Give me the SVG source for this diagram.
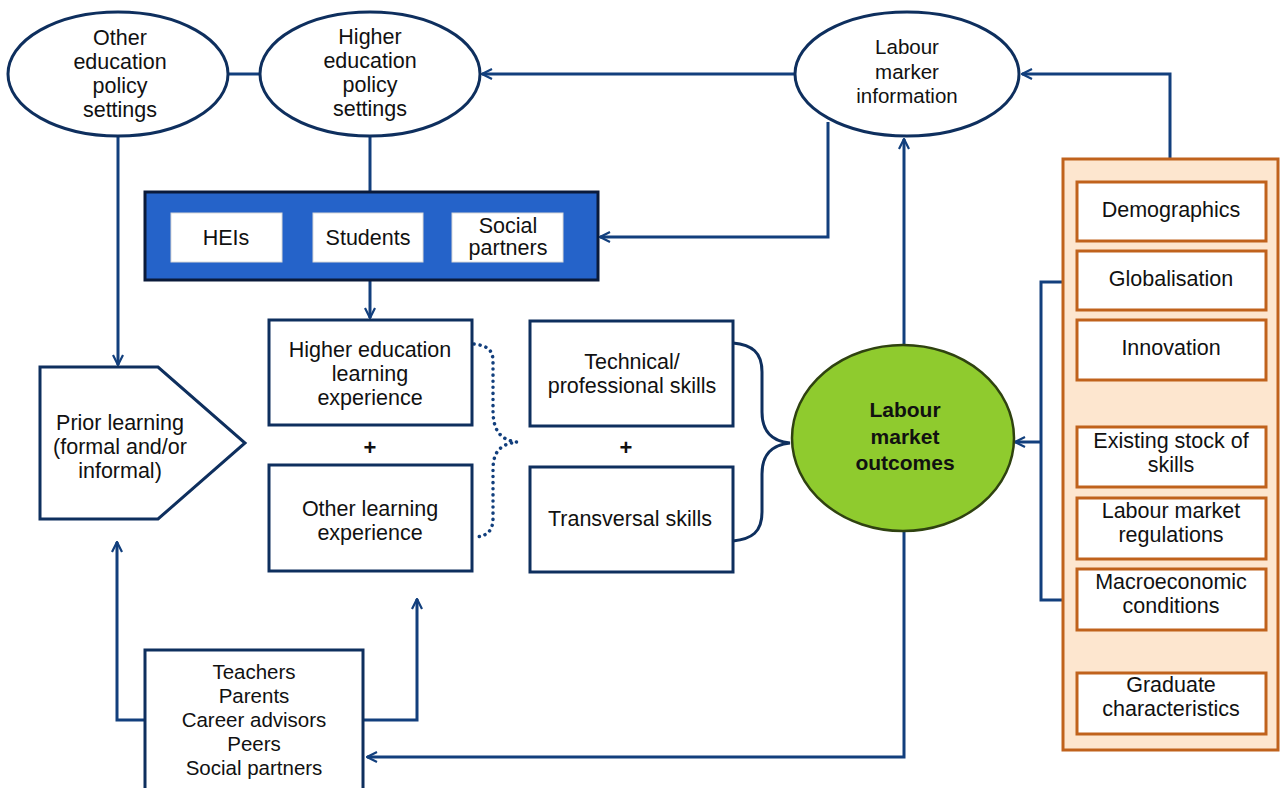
<svg xmlns="http://www.w3.org/2000/svg" width="1280" height="788" viewBox="0 0 1280 788">
<defs>
<marker id="ah" viewBox="0 0 12 12" refX="11" refY="6" markerWidth="12" markerHeight="12" markerUnits="userSpaceOnUse" orient="auto">
<path d="M1,1 L11,6 L1,11" fill="none" stroke="#123f7d" stroke-width="2.2"/>
</marker>
<style>
text{font-family:"Liberation Sans",Arial,sans-serif;font-size:21.5px;fill:#111;text-anchor:middle}
.b{font-weight:bold;font-size:21px}
.n{font-size:20.5px}
.node{fill:#fff;stroke:#0e2f5e;stroke-width:3}
.line{fill:none;stroke:#123f7d;stroke-width:3}
.arr{fill:none;stroke:#123f7d;stroke-width:3;marker-end:url(#ah)}
.ob{fill:#fff;stroke:#c0621c;stroke-width:3}
.wb{fill:#fff;stroke:#d8d8d8;stroke-width:1}
</style>
</defs>
<rect width="1280" height="788" fill="#fff"/>

<g id="connectors">
<line class="line" x1="229" y1="74" x2="260" y2="74"/>
<path class="arr" d="M795,74 H482"/>
<path class="arr" d="M1170,160 V74 H1022"/>
<path class="arr" d="M828,122 V237 H600"/>
<path class="arr" d="M904,345 V139"/>
<line class="line" x1="370" y1="136" x2="370" y2="192"/>
<path class="arr" d="M370,280 V318"/>
<path class="arr" d="M118,136 V365"/>
<path class="arr" d="M145,720 H117 V542"/>
<path class="arr" d="M363,720 H417 V599"/>
<path class="arr" d="M904,530 V757 H367"/>
<path class="line" d="M1063,282 H1041 V600 H1063"/>
<path class="arr" d="M1041,442 H1015"/>
<path d="M474,344 C490,346 493,352 493,362 V410 C493,430 500,440 517,442 C500,444 493,452 493,470 V518 C493,530 488,536 476,537" fill="none" stroke="#123f7d" stroke-width="3.5" stroke-dasharray="0.1 6" stroke-linecap="round"/>
<path d="M733,343 C752,345 762,352 762,372 V412 C762,432 772,441 790,443 C772,445 762,454 762,474 V512 C762,532 752,539 733,541" fill="none" stroke="#0e2f5e" stroke-width="3"/>
</g>

<g id="other-education">
<ellipse class="node" cx="118" cy="74" rx="110" ry="62"/>
<text x="120" y="45">Other</text><text x="120" y="69">education</text><text x="120" y="93">policy</text><text x="120" y="117">settings</text>
</g>
<g id="higher-education">
<ellipse class="node" cx="370" cy="74" rx="110" ry="62"/>
<text x="370" y="44">Higher</text><text x="370" y="68">education</text><text x="370" y="92">policy</text><text x="370" y="116">settings</text>
</g>
<g id="labour-marker-information">
<ellipse class="node" cx="907" cy="74" rx="112" ry="62"/>
<text class="n" x="907" y="54">Labour</text><text class="n" x="907" y="79">marker</text><text class="n" x="907" y="103">information</text>
</g>

<g id="stakeholders">
<rect x="145" y="192" width="453" height="88" fill="#2563c9" stroke="#0a1a3a" stroke-width="3"/>
<rect class="wb" x="171" y="213" width="111" height="49"/>
<text x="226" y="245">HEIs</text>
<rect class="wb" x="313" y="213" width="110" height="49"/>
<text x="368" y="245">Students</text>
<rect class="wb" x="452" y="213" width="111" height="49"/>
<text x="508" y="233">Social</text><text x="508" y="255">partners</text>
</g>

<g id="prior-learning">
<polygon class="node" points="40,367 158,367 245,443 158,519 40,519"/>
<text x="120" y="430">Prior learning</text><text x="120" y="454">(formal and/or</text><text x="120" y="478">informal)</text>
</g>

<g id="he-learning">
<rect class="node" x="269" y="320" width="203" height="105"/>
<text x="370" y="357">Higher education</text><text x="370" y="381">learning</text><text x="370" y="405">experience</text>
</g>
<text class="b" x="370" y="455" style="font-size:22px">+</text>
<g id="other-learning">
<rect class="node" x="269" y="465" width="203" height="106"/>
<text x="370" y="516">Other learning</text><text x="370" y="540">experience</text>
</g>

<g id="technical-skills">
<rect class="node" x="530" y="321" width="203" height="105"/>
<text x="632" y="369">Technical/</text><text x="632" y="393">professional skills</text>
</g>
<text class="b" x="626" y="455" style="font-size:22px">+</text>
<g id="transversal-skills">
<rect class="node" x="530" y="467" width="203" height="105"/>
<text x="630" y="526">Transversal skills</text>
</g>

<g id="labour-market-outcomes">
<ellipse cx="903" cy="438" rx="111" ry="93" fill="#8fcb2e" stroke="#2f4210" stroke-width="2.5"/>
<text class="b" x="905" y="417">Labour</text><text class="b" x="905" y="444">market</text><text class="b" x="905" y="470">outcomes</text>
</g>

<g id="influencers">
<rect class="node" x="145" y="650" width="218" height="145"/>
<text class="n" x="254" y="679">Teachers</text><text class="n" x="254" y="703">Parents</text><text class="n" x="254" y="727">Career advisors</text><text class="n" x="254" y="751">Peers</text><text class="n" x="254" y="775">Social partners</text>
</g>

<g id="context-factors">
<rect x="1063" y="159" width="215" height="591" fill="#fde6cf" stroke="#c0621c" stroke-width="3"/>
<rect class="ob" x="1077" y="182" width="189" height="59"/>
<text x="1171" y="217">Demographics</text>
<rect class="ob" x="1077" y="251" width="189" height="59"/>
<text x="1171" y="286">Globalisation</text>
<rect class="ob" x="1077" y="320" width="189" height="60"/>
<text x="1171" y="355">Innovation</text>
<rect class="ob" x="1077" y="427" width="189" height="60"/>
<text x="1171" y="448">Existing stock of</text><text x="1171" y="472">skills</text>
<rect class="ob" x="1077" y="498" width="189" height="61"/>
<text x="1171" y="518">Labour market</text><text x="1171" y="542">regulations</text>
<rect class="ob" x="1077" y="569" width="189" height="61"/>
<text x="1171" y="589">Macroeconomic</text><text x="1171" y="613">conditions</text>
<rect class="ob" x="1077" y="673" width="189" height="61"/>
<text x="1171" y="692">Graduate</text><text x="1171" y="716">characteristics</text>
</g>
</svg>
